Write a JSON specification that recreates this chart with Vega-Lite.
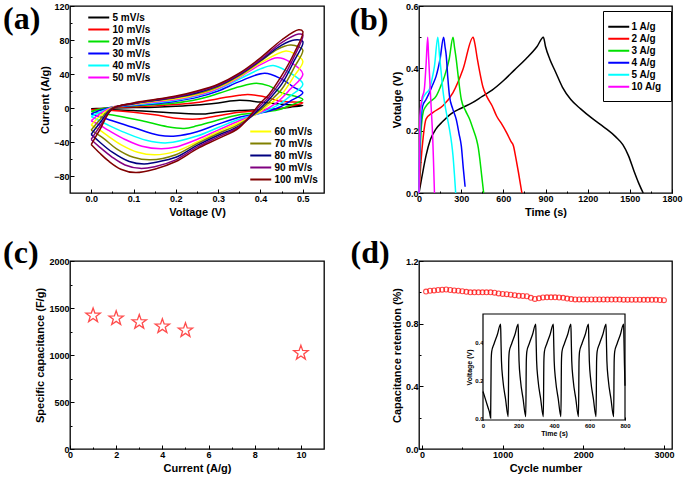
{
"$schema":"https://vega.github.io/schema/vega-lite/v6.json",
"background":"white",
"padding":{"left":2,"top":1,"right":0,"bottom":0},
"config":{
 "font":"Liberation Sans",
 "view":{"stroke":"black","strokeWidth":1.3},
 "axis":{"domain":false,"grid":false,"labelFontWeight":"bold","labelFontSize":9,"labelColor":"black","titleFontWeight":"bold","titleFontSize":11,"titleColor":"black","tickColor":"black","tickWidth":1,"labelFlush":false,"labelOverlap":false,"labelPadding":5,"titlePadding":3,"zindex":1},
 "legend":{"labelFontSize":10,"labelFontWeight":"bold","labelColor":"black","symbolType":"M-2,0L2,0","symbolStrokeWidth":2,"symbolSize":110,"rowPadding":0,"labelOffset":7.25,"padding":0,"title":null}
},
"datasets":{
"cvA":[
{"r":"5 mV/s","o":0,"v":0,"c":-1},{"r":"5 mV/s","o":1,"v":0.02,"c":-0.5},{"r":"5 mV/s","o":2,"v":0.05,"c":0},{"r":"5 mV/s","o":3,"v":0.1,"c":0.5},{"r":"5 mV/s","o":4,"v":0.15,"c":1},{"r":"5 mV/s","o":5,"v":0.2,"c":2},{"r":"5 mV/s","o":6,"v":0.25,"c":3.5},{"r":"5 mV/s","o":7,"v":0.3,"c":6},{"r":"5 mV/s","o":8,"v":0.35,"c":9},{"r":"5 mV/s","o":9,"v":0.4,"c":7},{"r":"5 mV/s","o":10,"v":0.45,"c":4.5},{"r":"5 mV/s","o":11,"v":0.5,"c":3},{"r":"5 mV/s","o":12,"v":0.47,"c":1},{"r":"5 mV/s","o":13,"v":0.44,"c":-1},{"r":"5 mV/s","o":14,"v":0.4,"c":-2},{"r":"5 mV/s","o":15,"v":0.35,"c":-3},{"r":"5 mV/s","o":16,"v":0.3,"c":-5},{"r":"5 mV/s","o":17,"v":0.27,"c":-7},{"r":"5 mV/s","o":18,"v":0.22,"c":-6.5},{"r":"5 mV/s","o":19,"v":0.15,"c":-4.5},{"r":"5 mV/s","o":20,"v":0.1,"c":-3},{"r":"5 mV/s","o":21,"v":0.05,"c":-2},{"r":"5 mV/s","o":22,"v":0,"c":-1},
{"r":"10 mV/s","o":0,"v":0,"c":-2},{"r":"10 mV/s","o":1,"v":0.02,"c":-1},{"r":"10 mV/s","o":2,"v":0.05,"c":0.5},{"r":"10 mV/s","o":3,"v":0.1,"c":1.5},{"r":"10 mV/s","o":4,"v":0.15,"c":2.5},{"r":"10 mV/s","o":5,"v":0.2,"c":4},{"r":"10 mV/s","o":6,"v":0.25,"c":6.5},{"r":"10 mV/s","o":7,"v":0.3,"c":11},{"r":"10 mV/s","o":8,"v":0.35,"c":15},{"r":"10 mV/s","o":9,"v":0.37,"c":16},{"r":"10 mV/s","o":10,"v":0.4,"c":14},{"r":"10 mV/s","o":11,"v":0.45,"c":8},{"r":"10 mV/s","o":12,"v":0.5,"c":6},{"r":"10 mV/s","o":13,"v":0.47,"c":2},{"r":"10 mV/s","o":14,"v":0.44,"c":-1.5},{"r":"10 mV/s","o":15,"v":0.4,"c":-3},{"r":"10 mV/s","o":16,"v":0.35,"c":-5},{"r":"10 mV/s","o":17,"v":0.3,"c":-9},{"r":"10 mV/s","o":18,"v":0.25,"c":-13},{"r":"10 mV/s","o":19,"v":0.2,"c":-12},{"r":"10 mV/s","o":20,"v":0.15,"c":-8},{"r":"10 mV/s","o":21,"v":0.1,"c":-5},{"r":"10 mV/s","o":22,"v":0.05,"c":-3},{"r":"10 mV/s","o":23,"v":0,"c":-2},
{"r":"20 mV/s","o":0,"v":0,"c":-4},{"r":"20 mV/s","o":1,"v":0.02,"c":-1.5},{"r":"20 mV/s","o":2,"v":0.05,"c":1},{"r":"20 mV/s","o":3,"v":0.1,"c":2.5},{"r":"20 mV/s","o":4,"v":0.15,"c":4},{"r":"20 mV/s","o":5,"v":0.2,"c":6},{"r":"20 mV/s","o":6,"v":0.25,"c":10},{"r":"20 mV/s","o":7,"v":0.3,"c":17},{"r":"20 mV/s","o":8,"v":0.35,"c":25},{"r":"20 mV/s","o":9,"v":0.39,"c":29},{"r":"20 mV/s","o":10,"v":0.42,"c":26},{"r":"20 mV/s","o":11,"v":0.45,"c":18},{"r":"20 mV/s","o":12,"v":0.5,"c":10},{"r":"20 mV/s","o":13,"v":0.47,"c":3},{"r":"20 mV/s","o":14,"v":0.44,"c":-2.5},{"r":"20 mV/s","o":15,"v":0.4,"c":-5},{"r":"20 mV/s","o":16,"v":0.35,"c":-8},{"r":"20 mV/s","o":17,"v":0.3,"c":-14},{"r":"20 mV/s","o":18,"v":0.25,"c":-21},{"r":"20 mV/s","o":19,"v":0.22,"c":-24},{"r":"20 mV/s","o":20,"v":0.18,"c":-22},{"r":"20 mV/s","o":21,"v":0.12,"c":-15},{"r":"20 mV/s","o":22,"v":0.06,"c":-9},{"r":"20 mV/s","o":23,"v":0.02,"c":-6},{"r":"20 mV/s","o":24,"v":0,"c":-4},
{"r":"30 mV/s","o":0,"v":0,"c":-7},{"r":"30 mV/s","o":1,"v":0.02,"c":-3},{"r":"30 mV/s","o":2,"v":0.05,"c":1},{"r":"30 mV/s","o":3,"v":0.1,"c":3},{"r":"30 mV/s","o":4,"v":0.15,"c":5},{"r":"30 mV/s","o":5,"v":0.2,"c":8},{"r":"30 mV/s","o":6,"v":0.25,"c":12.5},{"r":"30 mV/s","o":7,"v":0.3,"c":20},{"r":"30 mV/s","o":8,"v":0.35,"c":31},{"r":"30 mV/s","o":9,"v":0.41,"c":41},{"r":"30 mV/s","o":10,"v":0.45,"c":34},{"r":"30 mV/s","o":11,"v":0.48,"c":24},{"r":"30 mV/s","o":12,"v":0.5,"c":18},{"r":"30 mV/s","o":13,"v":0.47,"c":8},{"r":"30 mV/s","o":14,"v":0.44,"c":0},{"r":"30 mV/s","o":15,"v":0.4,"c":-6},{"r":"30 mV/s","o":16,"v":0.35,"c":-11},{"r":"30 mV/s","o":17,"v":0.3,"c":-19},{"r":"30 mV/s","o":18,"v":0.25,"c":-28},{"r":"30 mV/s","o":19,"v":0.2,"c":-33},{"r":"30 mV/s","o":20,"v":0.16,"c":-32},{"r":"30 mV/s","o":21,"v":0.1,"c":-23},{"r":"30 mV/s","o":22,"v":0.05,"c":-15},{"r":"30 mV/s","o":23,"v":0.02,"c":-10},{"r":"30 mV/s","o":24,"v":0,"c":-7},
{"r":"40 mV/s","o":0,"v":0,"c":-10},{"r":"40 mV/s","o":1,"v":0.02,"c":-5},{"r":"40 mV/s","o":2,"v":0.05,"c":1},{"r":"40 mV/s","o":3,"v":0.1,"c":3.5},{"r":"40 mV/s","o":4,"v":0.15,"c":6},{"r":"40 mV/s","o":5,"v":0.2,"c":9},{"r":"40 mV/s","o":6,"v":0.25,"c":14},{"r":"40 mV/s","o":7,"v":0.3,"c":22},{"r":"40 mV/s","o":8,"v":0.35,"c":34},{"r":"40 mV/s","o":9,"v":0.4,"c":46},{"r":"40 mV/s","o":10,"v":0.43,"c":50},{"r":"40 mV/s","o":11,"v":0.46,"c":44},{"r":"40 mV/s","o":12,"v":0.5,"c":28},{"r":"40 mV/s","o":13,"v":0.47,"c":14},{"r":"40 mV/s","o":14,"v":0.44,"c":3},{"r":"40 mV/s","o":15,"v":0.4,"c":-6},{"r":"40 mV/s","o":16,"v":0.35,"c":-13},{"r":"40 mV/s","o":17,"v":0.3,"c":-23},{"r":"40 mV/s","o":18,"v":0.25,"c":-33},{"r":"40 mV/s","o":19,"v":0.18,"c":-41},{"r":"40 mV/s","o":20,"v":0.13,"c":-38},{"r":"40 mV/s","o":21,"v":0.08,"c":-29},{"r":"40 mV/s","o":22,"v":0.04,"c":-20},{"r":"40 mV/s","o":23,"v":0.02,"c":-15},{"r":"40 mV/s","o":24,"v":0,"c":-10},
{"r":"50 mV/s","o":0,"v":0,"c":-15},{"r":"50 mV/s","o":1,"v":0.02,"c":-7},{"r":"50 mV/s","o":2,"v":0.05,"c":1},{"r":"50 mV/s","o":3,"v":0.1,"c":4},{"r":"50 mV/s","o":4,"v":0.15,"c":7},{"r":"50 mV/s","o":5,"v":0.2,"c":10},{"r":"50 mV/s","o":6,"v":0.25,"c":15},{"r":"50 mV/s","o":7,"v":0.3,"c":23},{"r":"50 mV/s","o":8,"v":0.35,"c":36},{"r":"50 mV/s","o":9,"v":0.4,"c":51},{"r":"50 mV/s","o":10,"v":0.44,"c":59},{"r":"50 mV/s","o":11,"v":0.47,"c":54},{"r":"50 mV/s","o":12,"v":0.5,"c":40},{"r":"50 mV/s","o":13,"v":0.47,"c":22},{"r":"50 mV/s","o":14,"v":0.44,"c":7},{"r":"50 mV/s","o":15,"v":0.4,"c":-5},{"r":"50 mV/s","o":16,"v":0.35,"c":-15},{"r":"50 mV/s","o":17,"v":0.3,"c":-26},{"r":"50 mV/s","o":18,"v":0.25,"c":-37},{"r":"50 mV/s","o":19,"v":0.2,"c":-46},{"r":"50 mV/s","o":20,"v":0.165,"c":-48},{"r":"50 mV/s","o":21,"v":0.12,"c":-45},{"r":"50 mV/s","o":22,"v":0.08,"c":-37},{"r":"50 mV/s","o":23,"v":0.04,"c":-26},{"r":"50 mV/s","o":24,"v":0.02,"c":-20},{"r":"50 mV/s","o":25,"v":0,"c":-15}
],
"cvB":[
{"r":"60 mV/s","o":0,"v":0,"c":-20},{"r":"60 mV/s","o":1,"v":0.02,"c":-10},{"r":"60 mV/s","o":2,"v":0.05,"c":0.5},{"r":"60 mV/s","o":3,"v":0.1,"c":4.5},{"r":"60 mV/s","o":4,"v":0.15,"c":8},{"r":"60 mV/s","o":5,"v":0.2,"c":11},{"r":"60 mV/s","o":6,"v":0.25,"c":16},{"r":"60 mV/s","o":7,"v":0.3,"c":24},{"r":"60 mV/s","o":8,"v":0.35,"c":37},{"r":"60 mV/s","o":9,"v":0.4,"c":53},{"r":"60 mV/s","o":10,"v":0.46,"c":67},{"r":"60 mV/s","o":11,"v":0.48,"c":64},{"r":"60 mV/s","o":12,"v":0.5,"c":55},{"r":"60 mV/s","o":13,"v":0.48,"c":38},{"r":"60 mV/s","o":14,"v":0.45,"c":16},{"r":"60 mV/s","o":15,"v":0.42,"c":4},{"r":"60 mV/s","o":16,"v":0.4,"c":-4},{"r":"60 mV/s","o":17,"v":0.35,"c":-17},{"r":"60 mV/s","o":18,"v":0.3,"c":-28},{"r":"60 mV/s","o":19,"v":0.25,"c":-40},{"r":"60 mV/s","o":20,"v":0.2,"c":-51},{"r":"60 mV/s","o":21,"v":0.15,"c":-55},{"r":"60 mV/s","o":22,"v":0.11,"c":-52},{"r":"60 mV/s","o":23,"v":0.07,"c":-43},{"r":"60 mV/s","o":24,"v":0.04,"c":-33},{"r":"60 mV/s","o":25,"v":0.02,"c":-26},{"r":"60 mV/s","o":26,"v":0,"c":-20},
{"r":"70 mV/s","o":0,"v":0,"c":-26},{"r":"70 mV/s","o":1,"v":0.02,"c":-14},{"r":"70 mV/s","o":2,"v":0.05,"c":0},{"r":"70 mV/s","o":3,"v":0.1,"c":5},{"r":"70 mV/s","o":4,"v":0.15,"c":8.5},{"r":"70 mV/s","o":5,"v":0.2,"c":12},{"r":"70 mV/s","o":6,"v":0.25,"c":17},{"r":"70 mV/s","o":7,"v":0.3,"c":25},{"r":"70 mV/s","o":8,"v":0.35,"c":38},{"r":"70 mV/s","o":9,"v":0.4,"c":55},{"r":"70 mV/s","o":10,"v":0.44,"c":69},{"r":"70 mV/s","o":11,"v":0.47,"c":74},{"r":"70 mV/s","o":12,"v":0.49,"c":72},{"r":"70 mV/s","o":13,"v":0.5,"c":68},{"r":"70 mV/s","o":14,"v":0.48,"c":48},{"r":"70 mV/s","o":15,"v":0.45,"c":22},{"r":"70 mV/s","o":16,"v":0.42,"c":7},{"r":"70 mV/s","o":17,"v":0.4,"c":-2},{"r":"70 mV/s","o":18,"v":0.35,"c":-19},{"r":"70 mV/s","o":19,"v":0.3,"c":-30},{"r":"70 mV/s","o":20,"v":0.25,"c":-42},{"r":"70 mV/s","o":21,"v":0.2,"c":-55},{"r":"70 mV/s","o":22,"v":0.14,"c":-61},{"r":"70 mV/s","o":23,"v":0.1,"c":-58},{"r":"70 mV/s","o":24,"v":0.06,"c":-48},{"r":"70 mV/s","o":25,"v":0.03,"c":-36},{"r":"70 mV/s","o":26,"v":0,"c":-26},
{"r":"80 mV/s","o":0,"v":0,"c":-31},{"r":"80 mV/s","o":1,"v":0.02,"c":-18},{"r":"80 mV/s","o":2,"v":0.05,"c":-0.5},{"r":"80 mV/s","o":3,"v":0.1,"c":5},{"r":"80 mV/s","o":4,"v":0.15,"c":9},{"r":"80 mV/s","o":5,"v":0.2,"c":12.5},{"r":"80 mV/s","o":6,"v":0.25,"c":18},{"r":"80 mV/s","o":7,"v":0.3,"c":26},{"r":"80 mV/s","o":8,"v":0.35,"c":39},{"r":"80 mV/s","o":9,"v":0.4,"c":56},{"r":"80 mV/s","o":10,"v":0.45,"c":74},{"r":"80 mV/s","o":11,"v":0.48,"c":80},{"r":"80 mV/s","o":12,"v":0.5,"c":78},{"r":"80 mV/s","o":13,"v":0.48,"c":56},{"r":"80 mV/s","o":14,"v":0.45,"c":28},{"r":"80 mV/s","o":15,"v":0.42,"c":10},{"r":"80 mV/s","o":16,"v":0.4,"c":0},{"r":"80 mV/s","o":17,"v":0.35,"c":-21},{"r":"80 mV/s","o":18,"v":0.3,"c":-32},{"r":"80 mV/s","o":19,"v":0.25,"c":-44},{"r":"80 mV/s","o":20,"v":0.2,"c":-58},{"r":"80 mV/s","o":21,"v":0.15,"c":-64},{"r":"80 mV/s","o":22,"v":0.125,"c":-66},{"r":"80 mV/s","o":23,"v":0.09,"c":-63},{"r":"80 mV/s","o":24,"v":0.05,"c":-52},{"r":"80 mV/s","o":25,"v":0.02,"c":-40},{"r":"80 mV/s","o":26,"v":0,"c":-31},
{"r":"90 mV/s","o":0,"v":0,"c":-37},{"r":"90 mV/s","o":1,"v":0.02,"c":-22},{"r":"90 mV/s","o":2,"v":0.05,"c":-1},{"r":"90 mV/s","o":3,"v":0.1,"c":5.5},{"r":"90 mV/s","o":4,"v":0.15,"c":9.5},{"r":"90 mV/s","o":5,"v":0.2,"c":13},{"r":"90 mV/s","o":6,"v":0.25,"c":19},{"r":"90 mV/s","o":7,"v":0.3,"c":27},{"r":"90 mV/s","o":8,"v":0.35,"c":40},{"r":"90 mV/s","o":9,"v":0.4,"c":57},{"r":"90 mV/s","o":10,"v":0.45,"c":77},{"r":"90 mV/s","o":11,"v":0.49,"c":87},{"r":"90 mV/s","o":12,"v":0.5,"c":86},{"r":"90 mV/s","o":13,"v":0.48,"c":61},{"r":"90 mV/s","o":14,"v":0.45,"c":33},{"r":"90 mV/s","o":15,"v":0.42,"c":13},{"r":"90 mV/s","o":16,"v":0.4,"c":3},{"r":"90 mV/s","o":17,"v":0.35,"c":-22},{"r":"90 mV/s","o":18,"v":0.3,"c":-34},{"r":"90 mV/s","o":19,"v":0.25,"c":-46},{"r":"90 mV/s","o":20,"v":0.2,"c":-61},{"r":"90 mV/s","o":21,"v":0.15,"c":-69},{"r":"90 mV/s","o":22,"v":0.115,"c":-71},{"r":"90 mV/s","o":23,"v":0.08,"c":-67},{"r":"90 mV/s","o":24,"v":0.05,"c":-58},{"r":"90 mV/s","o":25,"v":0.02,"c":-46},{"r":"90 mV/s","o":26,"v":0,"c":-37},
{"r":"100 mV/s","o":0,"v":0,"c":-43},{"r":"100 mV/s","o":1,"v":0.02,"c":-26},{"r":"100 mV/s","o":2,"v":0.05,"c":-1},{"r":"100 mV/s","o":3,"v":0.1,"c":6},{"r":"100 mV/s","o":4,"v":0.15,"c":10},{"r":"100 mV/s","o":5,"v":0.2,"c":14},{"r":"100 mV/s","o":6,"v":0.25,"c":20},{"r":"100 mV/s","o":7,"v":0.3,"c":28},{"r":"100 mV/s","o":8,"v":0.35,"c":41},{"r":"100 mV/s","o":9,"v":0.4,"c":59},{"r":"100 mV/s","o":10,"v":0.45,"c":80},{"r":"100 mV/s","o":11,"v":0.49,"c":92},{"r":"100 mV/s","o":12,"v":0.5,"c":90},{"r":"100 mV/s","o":13,"v":0.48,"c":65},{"r":"100 mV/s","o":14,"v":0.45,"c":38},{"r":"100 mV/s","o":15,"v":0.42,"c":16},{"r":"100 mV/s","o":16,"v":0.4,"c":6},{"r":"100 mV/s","o":17,"v":0.35,"c":-23},{"r":"100 mV/s","o":18,"v":0.3,"c":-36},{"r":"100 mV/s","o":19,"v":0.25,"c":-48},{"r":"100 mV/s","o":20,"v":0.2,"c":-63},{"r":"100 mV/s","o":21,"v":0.15,"c":-72},{"r":"100 mV/s","o":22,"v":0.105,"c":-76},{"r":"100 mV/s","o":23,"v":0.07,"c":-72},{"r":"100 mV/s","o":24,"v":0.04,"c":-62},{"r":"100 mV/s","o":25,"v":0.02,"c":-53},{"r":"100 mV/s","o":26,"v":0,"c":-43}
],
"gcd":[
{"g":"1 A/g","t":0,"u":0},{"g":"1 A/g","t":20,"u":0.05},{"g":"1 A/g","t":50,"u":0.12},{"g":"1 A/g","t":80,"u":0.17},{"g":"1 A/g","t":120,"u":0.205},{"g":"1 A/g","t":170,"u":0.23},{"g":"1 A/g","t":230,"u":0.255},{"g":"1 A/g","t":300,"u":0.272},{"g":"1 A/g","t":380,"u":0.29},{"g":"1 A/g","t":450,"u":0.31},{"g":"1 A/g","t":520,"u":0.33},{"g":"1 A/g","t":600,"u":0.36},{"g":"1 A/g","t":680,"u":0.395},{"g":"1 A/g","t":760,"u":0.43},{"g":"1 A/g","t":840,"u":0.47},{"g":"1 A/g","t":885,"u":0.5},{"g":"1 A/g","t":900,"u":0.47},{"g":"1 A/g","t":930,"u":0.43},{"g":"1 A/g","t":970,"u":0.39},{"g":"1 A/g","t":1020,"u":0.34},{"g":"1 A/g","t":1080,"u":0.3},{"g":"1 A/g","t":1150,"u":0.27},{"g":"1 A/g","t":1230,"u":0.24},{"g":"1 A/g","t":1320,"u":0.21},{"g":"1 A/g","t":1400,"u":0.18},{"g":"1 A/g","t":1450,"u":0.155},{"g":"1 A/g","t":1490,"u":0.12},{"g":"1 A/g","t":1530,"u":0.07},{"g":"1 A/g","t":1560,"u":0.035},{"g":"1 A/g","t":1595,"u":0},
{"g":"2 A/g","t":0,"u":0},{"g":"2 A/g","t":8,"u":0.06},{"g":"2 A/g","t":14,"u":0.1},{"g":"2 A/g","t":30,"u":0.18},{"g":"2 A/g","t":50,"u":0.237},{"g":"2 A/g","t":98,"u":0.258},{"g":"2 A/g","t":170,"u":0.28},{"g":"2 A/g","t":242,"u":0.322},{"g":"2 A/g","t":313,"u":0.397},{"g":"2 A/g","t":385,"u":0.5},{"g":"2 A/g","t":397,"u":0.48},{"g":"2 A/g","t":415,"u":0.43},{"g":"2 A/g","t":433,"u":0.386},{"g":"2 A/g","t":455,"u":0.34},{"g":"2 A/g","t":481,"u":0.311},{"g":"2 A/g","t":520,"u":0.28},{"g":"2 A/g","t":552,"u":0.247},{"g":"2 A/g","t":590,"u":0.22},{"g":"2 A/g","t":624,"u":0.193},{"g":"2 A/g","t":655,"u":0.165},{"g":"2 A/g","t":672,"u":0.151},{"g":"2 A/g","t":690,"u":0.11},{"g":"2 A/g","t":708,"u":0.065},{"g":"2 A/g","t":732,"u":0},
{"g":"3 A/g","t":0,"u":0},{"g":"3 A/g","t":6,"u":0.1},{"g":"3 A/g","t":14,"u":0.193},{"g":"3 A/g","t":30,"u":0.26},{"g":"3 A/g","t":50,"u":0.279},{"g":"3 A/g","t":85,"u":0.295},{"g":"3 A/g","t":122,"u":0.311},{"g":"3 A/g","t":152,"u":0.34},{"g":"3 A/g","t":182,"u":0.375},{"g":"3 A/g","t":215,"u":0.43},{"g":"3 A/g","t":242,"u":0.5},{"g":"3 A/g","t":252,"u":0.47},{"g":"3 A/g","t":265,"u":0.429},{"g":"3 A/g","t":280,"u":0.37},{"g":"3 A/g","t":301,"u":0.3},{"g":"3 A/g","t":330,"u":0.265},{"g":"3 A/g","t":361,"u":0.236},{"g":"3 A/g","t":385,"u":0.205},{"g":"3 A/g","t":409,"u":0.172},{"g":"3 A/g","t":422,"u":0.145},{"g":"3 A/g","t":433,"u":0.108},{"g":"3 A/g","t":445,"u":0.06},{"g":"3 A/g","t":460,"u":0},
{"g":"4 A/g","t":0,"u":0},{"g":"4 A/g","t":5,"u":0.12},{"g":"4 A/g","t":12,"u":0.22},{"g":"4 A/g","t":26,"u":0.279},{"g":"4 A/g","t":50,"u":0.3},{"g":"4 A/g","t":74,"u":0.322},{"g":"4 A/g","t":100,"u":0.35},{"g":"4 A/g","t":122,"u":0.375},{"g":"4 A/g","t":150,"u":0.43},{"g":"4 A/g","t":175,"u":0.5},{"g":"4 A/g","t":185,"u":0.47},{"g":"4 A/g","t":194,"u":0.44},{"g":"4 A/g","t":205,"u":0.37},{"g":"4 A/g","t":217,"u":0.311},{"g":"4 A/g","t":240,"u":0.27},{"g":"4 A/g","t":265,"u":0.236},{"g":"4 A/g","t":285,"u":0.19},{"g":"4 A/g","t":301,"u":0.151},{"g":"4 A/g","t":315,"u":0.08},{"g":"4 A/g","t":328,"u":0.02},
{"g":"5 A/g","t":0,"u":0},{"g":"5 A/g","t":4,"u":0.14},{"g":"5 A/g","t":10,"u":0.24},{"g":"5 A/g","t":25,"u":0.3},{"g":"5 A/g","t":50,"u":0.32},{"g":"5 A/g","t":74,"u":0.333},{"g":"5 A/g","t":95,"u":0.37},{"g":"5 A/g","t":110,"u":0.407},{"g":"5 A/g","t":134,"u":0.5},{"g":"5 A/g","t":146,"u":0.44},{"g":"5 A/g","t":158,"u":0.386},{"g":"5 A/g","t":170,"u":0.33},{"g":"5 A/g","t":182,"u":0.29},{"g":"5 A/g","t":200,"u":0.245},{"g":"5 A/g","t":217,"u":0.204},{"g":"5 A/g","t":232,"u":0.16},{"g":"5 A/g","t":242,"u":0.119},{"g":"5 A/g","t":252,"u":0.06},{"g":"5 A/g","t":261,"u":0},
{"g":"10 A/g","t":0,"u":0},{"g":"10 A/g","t":3,"u":0.12},{"g":"10 A/g","t":7,"u":0.247},{"g":"10 A/g","t":20,"u":0.3},{"g":"10 A/g","t":38,"u":0.333},{"g":"10 A/g","t":50,"u":0.41},{"g":"10 A/g","t":62,"u":0.5},{"g":"10 A/g","t":68,"u":0.44},{"g":"10 A/g","t":74,"u":0.386},{"g":"10 A/g","t":86,"u":0.279},{"g":"10 A/g","t":98,"u":0.172},{"g":"10 A/g","t":104,"u":0.09},{"g":"10 A/g","t":110,"u":0}
],
"cap":[{"i":1,"s":1420},{"i":2,"s":1390},{"i":3,"s":1350},{"i":4,"s":1305},{"i":5,"s":1262},{"i":10,"s":1022}],
"ret":[
{"n":50,"k":1.005},{"n":100,"k":1.01},{"n":150,"k":1.012},{"n":200,"k":1.015},{"n":250,"k":1.017},{"n":300,"k":1.018},{"n":350,"k":1.015},{"n":400,"k":1.012},{"n":450,"k":1.01},{"n":500,"k":1.007},{"n":550,"k":1.003},{"n":600,"k":1.0},{"n":650,"k":1.0},{"n":700,"k":1.0},{"n":750,"k":1.0},{"n":800,"k":1.0},{"n":850,"k":1.0},{"n":900,"k":0.998},{"n":950,"k":0.993},{"n":1000,"k":0.99},{"n":1050,"k":0.988},{"n":1100,"k":0.985},{"n":1150,"k":0.982},{"n":1200,"k":0.978},{"n":1250,"k":0.977},{"n":1300,"k":0.975},{"n":1350,"k":0.965},{"n":1400,"k":0.958},{"n":1450,"k":0.962},{"n":1500,"k":0.967},{"n":1550,"k":0.968},{"n":1600,"k":0.968},{"n":1650,"k":0.968},{"n":1700,"k":0.967},{"n":1750,"k":0.965},{"n":1800,"k":0.96},{"n":1850,"k":0.957},{"n":1900,"k":0.955},{"n":1950,"k":0.955},{"n":2000,"k":0.955},{"n":2050,"k":0.955},{"n":2100,"k":0.955},{"n":2150,"k":0.955},{"n":2200,"k":0.955},{"n":2250,"k":0.955},{"n":2300,"k":0.954},{"n":2350,"k":0.954},{"n":2400,"k":0.954},{"n":2450,"k":0.954},{"n":2500,"k":0.953},{"n":2550,"k":0.953},{"n":2600,"k":0.953},{"n":2650,"k":0.953},{"n":2700,"k":0.953},{"n":2750,"k":0.952},{"n":2800,"k":0.952},{"n":2850,"k":0.952},{"n":2900,"k":0.952},{"n":2950,"k":0.951},{"n":3000,"k":0.95}
],
"ins":[
{"t":0,"u":0.14},{"t":10,"u":0.11},{"t":20,"u":0.08},{"t":30,"u":0.05},{"t":38,"u":0.025},{"t":43,"u":0.0},
{"t":46,"u":0.3},{"t":49,"u":0.35},{"t":62,"u":0.39},{"t":81,"u":0.44},{"t":99,"u":0.495},{"t":101,"u":0.42},{"t":104,"u":0.3},{"t":112,"u":0.2},{"t":127,"u":0.1},{"t":142,"u":0.007},
{"t":145,"u":0.3},{"t":148,"u":0.35},{"t":161,"u":0.39},{"t":180,"u":0.44},{"t":198,"u":0.495},{"t":200,"u":0.42},{"t":203,"u":0.3},{"t":211,"u":0.2},{"t":226,"u":0.1},{"t":241,"u":0.007},
{"t":244,"u":0.3},{"t":247,"u":0.35},{"t":260,"u":0.39},{"t":279,"u":0.44},{"t":297,"u":0.495},{"t":299,"u":0.42},{"t":302,"u":0.3},{"t":310,"u":0.2},{"t":325,"u":0.1},{"t":340,"u":0.007},
{"t":343,"u":0.3},{"t":346,"u":0.35},{"t":359,"u":0.39},{"t":378,"u":0.44},{"t":396,"u":0.495},{"t":398,"u":0.42},{"t":401,"u":0.3},{"t":409,"u":0.2},{"t":424,"u":0.1},{"t":439,"u":0.007},
{"t":442,"u":0.3},{"t":445,"u":0.35},{"t":458,"u":0.39},{"t":477,"u":0.44},{"t":495,"u":0.495},{"t":497,"u":0.42},{"t":500,"u":0.3},{"t":508,"u":0.2},{"t":523,"u":0.1},{"t":538,"u":0.007},
{"t":541,"u":0.3},{"t":544,"u":0.35},{"t":557,"u":0.39},{"t":576,"u":0.44},{"t":594,"u":0.495},{"t":596,"u":0.42},{"t":599,"u":0.3},{"t":607,"u":0.2},{"t":622,"u":0.1},{"t":637,"u":0.007},
{"t":640,"u":0.3},{"t":643,"u":0.35},{"t":656,"u":0.39},{"t":675,"u":0.44},{"t":693,"u":0.495},{"t":695,"u":0.42},{"t":698,"u":0.3},{"t":706,"u":0.2},{"t":721,"u":0.1},{"t":736,"u":0.007},
{"t":739,"u":0.3},{"t":742,"u":0.35},{"t":755,"u":0.39},{"t":774,"u":0.44},{"t":792,"u":0.495},{"t":794,"u":0.42},{"t":797,"u":0.28},{"t":800,"u":0.17}
]
},
"columns":2,
"bounds":"flush",
"spacing":{"row":68,"column":95},
"resolve":{"scale":{"color":"independent"}},
"concat":[
 {"width":254,"height":187,
  "layer":[
   {"data":{"name":"cvA"},"mark":{"type":"line","interpolate":"catmull-rom","strokeWidth":1.5},
    "encoding":{
     "x":{"field":"v","type":"quantitative","scale":{"domain":[-0.05,0.55],"nice":false,"zero":false},
      "axis":{"orient":"bottom","title":"Voltage (V)","values":[0,0.1,0.2,0.3,0.4,0.5],"format":".1f","tickSize":-4}},
     "y":{"field":"c","type":"quantitative","scale":{"domain":[-100,120],"nice":false,"zero":false},
      "axis":{"orient":"left","title":"Current (A/g)","values":[-80,-40,0,40,80,120],"tickSize":-4}},
     "color":{"field":"r","type":"nominal","sort":null,"scale":{"domain":["5 mV/s","10 mV/s","20 mV/s","30 mV/s","40 mV/s","50 mV/s"],"range":["#000000","#ff0000","#00e000","#0000ff","#00ffff","#ff00ff"]},
      "legend":{"orient":"none","legendX":22.25,"legendY":5}},
     "order":{"field":"o","type":"quantitative"}
    }},
   {"data":{"name":"cvB"},"mark":{"type":"line","interpolate":"catmull-rom","strokeWidth":1.5},
    "encoding":{
     "x":{"field":"v","type":"quantitative","axis":null},
     "y":{"field":"c","type":"quantitative","axis":null},
     "color":{"field":"r","type":"nominal","sort":null,"scale":{"domain":["60 mV/s","70 mV/s","80 mV/s","90 mV/s","100 mV/s"],"range":["#ffff00","#808000","#000080","#800080","#800000"]},
      "legend":{"orient":"none","legendX":184.25,"legendY":119}},
     "order":{"field":"o","type":"quantitative"}
    }},
   {"data":{"values":[{}]},"mark":{"type":"text","font":"Liberation Serif","fontSize":32,"fontWeight":"bold","align":"center","baseline":"middle"},
    "encoding":{"x":{"datum":-0.164,"type":"quantitative","axis":null},"y":{"datum":104.7,"type":"quantitative","axis":null},"text":{"value":"(a)"}}},
   {"data":{"values":[{}]},"mark":{"type":"point","opacity":0},
    "encoding":{"x":{"datum":0.25,"type":"quantitative","axis":{"orient":"bottom","values":[0.05,0.15,0.25,0.35,0.45],"labels":false,"title":null,"tickSize":-2}},
                "y":{"datum":0,"type":"quantitative","axis":{"orient":"left","values":[-60,-20,20,60,100],"labels":false,"title":null,"tickSize":-2}}}}
  ],
  "resolve":{"scale":{"color":"independent"},"axis":{"x":"independent","y":"independent"}}
 },
 {"width":253,"height":187,
  "layer":[
   {"data":{"values":[{}]},"mark":{"type":"rect","fill":"black"},
    "encoding":{"x":{"datum":1309,"type":"quantitative","axis":null},"x2":{"datum":1779},"y":{"datum":0.574,"type":"quantitative","axis":null},"y2":{"datum":0.302}}},
   {"data":{"name":"gcd"},"mark":{"type":"line","interpolate":"monotone","strokeWidth":1.5},
    "encoding":{
     "x":{"field":"t","type":"quantitative","scale":{"domain":[0,1800],"nice":false,"zero":false},
      "axis":{"orient":"bottom","title":"Time (s)","values":[0,300,600,900,1200,1500,1800],"format":"d","tickSize":-4}},
     "y":{"field":"u","type":"quantitative","scale":{"domain":[0,0.6],"nice":false,"zero":false},
      "axis":{"orient":"left","title":"Votalge (V)","values":[0,0.2,0.4,0.6],"format":".1f","tickSize":-4}},
     "color":{"field":"g","type":"nominal","sort":null,"scale":{"domain":["1 A/g","2 A/g","3 A/g","4 A/g","5 A/g","10 A/g"],"range":["#000000","#ff0000","#00e000","#0000ff","#00ffff","#ff00ff"]},
      "legend":{"orient":"none","legendX":184,"legendY":5,"strokeColor":"black","fillColor":"white","padding":9.25,"rowPadding":0,"labelOffset":6.25}}
    }},
   {"data":{"values":[{}]},"mark":{"type":"text","font":"Liberation Serif","fontSize":32,"fontWeight":"bold","align":"center","baseline":"middle"},
    "encoding":{"x":{"datum":-356,"type":"quantitative","axis":null},"y":{"datum":0.555,"type":"quantitative","axis":null},"text":{"value":"(b)"}}},
   {"data":{"values":[{}]},"mark":{"type":"point","opacity":0},
    "encoding":{"x":{"datum":900,"type":"quantitative","axis":{"orient":"bottom","values":[150,450,750,1050,1350,1650],"labels":false,"title":null,"tickSize":-2}},
                "y":{"datum":0.3,"type":"quantitative","axis":{"orient":"left","values":[0.1,0.3,0.5],"labels":false,"title":null,"tickSize":-2}}}}
  ],
  "resolve":{"axis":{"x":"independent","y":"independent"}}
 },
 {"width":254,"height":188,
  "layer":[
   {"data":{"name":"cap"},"mark":{"type":"point","shape":"M0,-1L0.235,-0.324L0.951,-0.309L0.38,0.124L0.588,0.809L0,0.4L-0.588,0.809L-0.38,0.124L-0.951,-0.309L-0.235,-0.324Z","filled":false,"color":"#ff0000","size":230,"strokeWidth":1.3},
    "encoding":{
     "x":{"field":"i","type":"quantitative","scale":{"domain":[0,11],"nice":false,"zero":false},
      "axis":{"orient":"bottom","title":"Current  (A/g)","values":[0,2,4,6,8,10],"tickSize":-4}},
     "y":{"field":"s","type":"quantitative","scale":{"domain":[0,2000],"nice":false,"zero":false},
      "axis":{"orient":"left","title":"Specific capacitance (F/g)","values":[0,500,1000,1500,2000],"format":"d","tickSize":-4}}
    }},
   {"data":{"values":[{}]},"mark":{"type":"text","font":"Liberation Serif","fontSize":32,"fontWeight":"bold","align":"center","baseline":"middle"},
    "encoding":{"x":{"datum":-2.13,"type":"quantitative","axis":null},"y":{"datum":2085,"type":"quantitative","axis":null},"text":{"value":"(c)"}}},
   {"data":{"values":[{}]},"mark":{"type":"point","opacity":0},
    "encoding":{"x":{"datum":5,"type":"quantitative","axis":{"orient":"bottom","values":[1,3,5,7,9],"labels":false,"title":null,"tickSize":-2}},
                "y":{"datum":1000,"type":"quantitative","axis":{"orient":"left","values":[250,750,1250,1750],"labels":false,"title":null,"tickSize":-2}}}}
  ],
  "resolve":{"axis":{"x":"independent","y":"independent"}}
 },
 {"width":253,"height":188,
  "layer":[
   {"layer":[
     {"data":{"name":"ret"},"mark":{"type":"point","shape":"circle","filled":false,"color":"#ff0000","size":24,"strokeWidth":1.1},
      "encoding":{
       "x":{"field":"n","type":"quantitative","scale":{"domain":[-37,3100],"nice":false,"zero":false},
        "axis":{"orient":"bottom","title":"Cycle number","values":[0,1000,2000,3000],"format":"d","tickSize":-4}},
       "y":{"field":"k","type":"quantitative","scale":{"domain":[0,1.2],"nice":false,"zero":false},
        "axis":{"orient":"left","title":"Capacitance retention (%)","values":[0,0.4,0.8,1.2],"format":".1f","tickSize":-4}}
      }},
     {"data":{"values":[{}]},"mark":{"type":"text","font":"Liberation Serif","fontSize":32,"fontWeight":"bold","align":"center","baseline":"middle"},
      "encoding":{"x":{"datum":-644,"type":"quantitative","axis":null},"y":{"datum":1.251,"type":"quantitative","axis":null},"text":{"value":"(d)"}}},
     {"data":{"values":[{}]},"mark":{"type":"point","opacity":0},
      "encoding":{"x":{"datum":1500,"type":"quantitative","axis":{"orient":"bottom","values":[500,1500,2500],"labels":false,"title":null,"tickSize":-2}},
                  "y":{"datum":0.6,"type":"quantitative","axis":{"orient":"left","values":[0.2,0.6,1.0],"labels":false,"title":null,"tickSize":-2}}}}
   ],
   "resolve":{"axis":{"x":"independent","y":"independent"}}},
   {"layer":[
     {"data":{"values":[{}]},"mark":{"type":"rect","fill":"white","stroke":"black","strokeWidth":1.2},
      "encoding":{
       "x":{"datum":0,"type":"quantitative","scale":{"domain":[0,800],"range":[64,206],"nice":false,"zero":false},
        "axis":{"orient":"bottom","offset":-29,"title":"Time (s)","titleFontSize":7,"labelFontSize":6,"titlePadding":1,"labelPadding":5,"values":[0,200,400,600,800],"tickSize":-3}},
       "x2":{"datum":800},
       "y":{"datum":-0.0105,"type":"quantitative","scale":{"domain":[-0.0105,0.548],"range":[159,53],"nice":false,"zero":false},
        "axis":{"orient":"left","offset":-64,"title":"Voltage (V)","titleFontSize":7,"labelFontSize":6,"titlePadding":2,"labelPadding":3,"values":[0,0.2,0.4],"format":".1f","tickSize":-3}},
       "y2":{"datum":0.548}
      }},
     {"data":{"name":"ins"},"mark":{"type":"line","interpolate":"monotone","color":"black","strokeWidth":1.3},
      "encoding":{
       "x":{"field":"t","type":"quantitative","scale":{"domain":[0,800],"range":[64,206],"nice":false,"zero":false}},
       "y":{"field":"u","type":"quantitative","scale":{"domain":[-0.0105,0.548],"range":[159,53],"nice":false,"zero":false}}
      }}
   ]}
  ],
  "resolve":{"scale":{"x":"independent","y":"independent"},"axis":{"x":"independent","y":"independent"}}
 }
]
}
